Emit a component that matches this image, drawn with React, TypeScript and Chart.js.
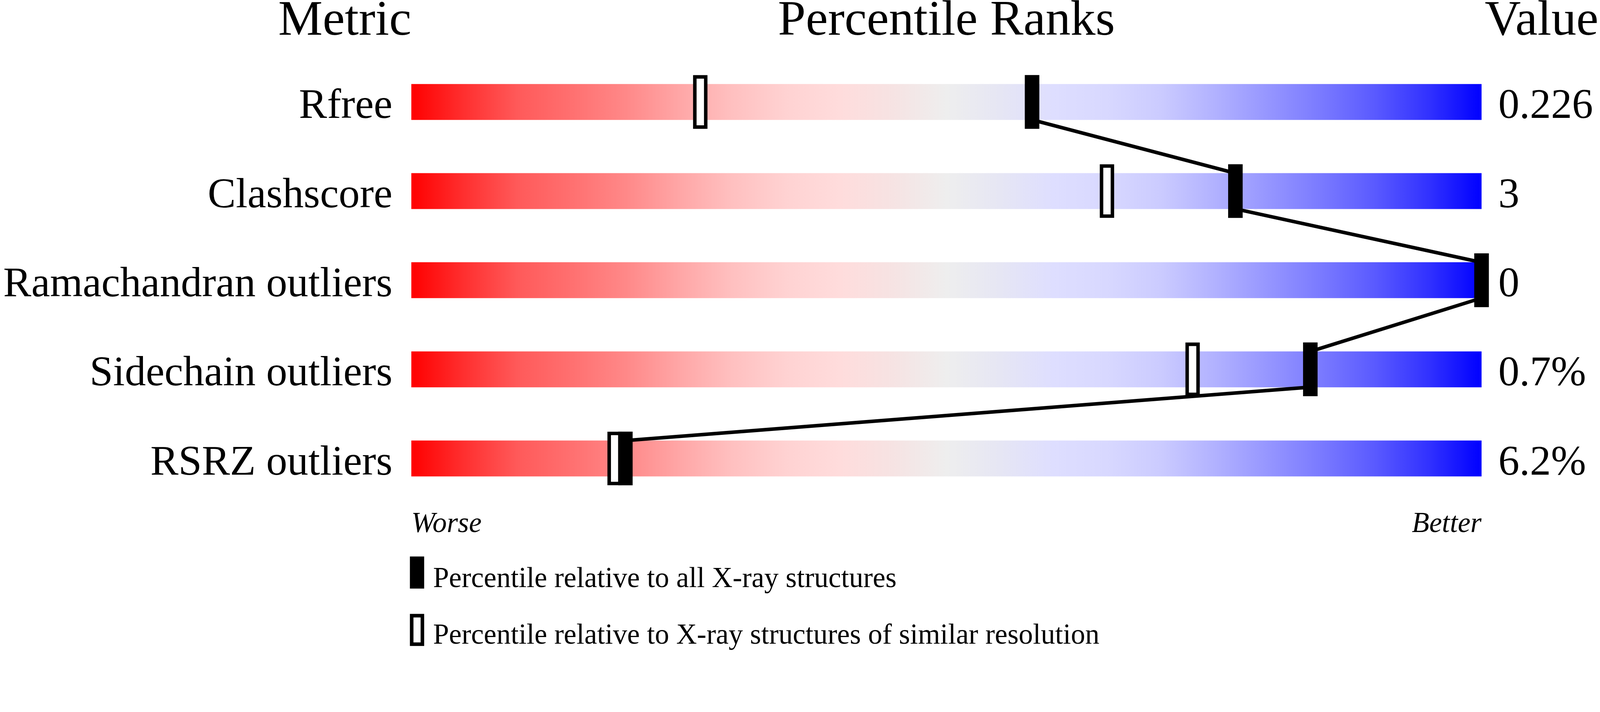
import { useEffect, useRef } from "react";
import { Chart, registerables } from "chart.js";

Chart.register(...registerables);

const metrics = ["Rfree", "Clashscore", "Ramachandran outliers", "Sidechain outliers", "RSRZ outliers"];
const metricValues = ["0.226", "3", "0", "0.7%", "6.2%"];
// percentile relative to all X-ray structures (filled marker)
const percentileAll = [58, 77, 100, 84, 20];
// percentile relative to structures of similar resolution (open marker)
const percentileSimilar = [27, 65, 100, 73, 19];
const scaleEnds = ["Worse", "Better"];
const headers = ["Metric", "Percentile Ranks", "Value"];
const legendLabels = [
  "Percentile relative to all X-ray structures",
  "Percentile relative to X-ray structures of similar resolution",
];

const SERIF = "'Liberation Serif', 'Times New Roman', serif";

// red -> grey -> blue slider colours
const gradientStops: [number, string][] = [
  [0, "#ff0000"],
  [0.05, "#ff3030"],
  [0.1, "#ff5a5a"],
  [0.15, "#ff7070"],
  [0.2, "#ff8888"],
  [0.25, "#ffa6a6"],
  [0.3, "#ffc0c0"],
  [0.35, "#ffd2d2"],
  [0.4, "#ffdcdc"],
  [0.45, "#f6e3e3"],
  [0.5, "#eeeeee"],
  [0.55, "#e6e6f4"],
  [0.6, "#dedeff"],
  [0.65, "#d8d8ff"],
  [0.7, "#cbcbff"],
  [0.75, "#b2b2ff"],
  [0.8, "#9696ff"],
  [0.85, "#7a7aff"],
  [0.9, "#5a5aff"],
  [0.95, "#3232ff"],
  [1, "#0000ff"],
];

const MARK = 0.667; // half marker width in percentile units (~20px)
const EDGE = 0.2; // half bar height in row units (~50px)

export default function App() {
  const canvasRef = useRef<HTMLCanvasElement>(null);

  useEffect(() => {
    document.body.style.margin = "0";
    document.body.style.overflow = "hidden";
    if (!canvasRef.current) return;

    // everything below was measured on a 4485px wide picture
    const W = window.innerWidth;
    const H = window.innerHeight;
    const k = W / 4485;
    const canvas = canvasRef.current;
    canvas.width = W;
    canvas.height = H;
    canvas.style.width = W + "px";
    canvas.style.height = H + "px";

    const headerPlugin = {
      id: "headersAndKey",
      afterDraw(chart: any) {
        const { ctx, chartArea } = chart;
        ctx.save();
        ctx.fillStyle = "#000";
        ctx.textBaseline = "alphabetic";
        ctx.font = `${140 * k}px ${SERIF}`;
        const hy = chartArea.top - 64 * k;
        ctx.textAlign = "right";
        ctx.fillText(headers[0], chartArea.left, hy);
        ctx.textAlign = "center";
        ctx.fillText(headers[1], (chartArea.left + chartArea.right) / 2, hy);
        ctx.textAlign = "left";
        ctx.fillText(headers[2], chartArea.right + 9 * k, hy);

        // key
        const sx = chartArea.left - 4 * k;
        const rows = [chartArea.bottom + 150 * k, chartArea.bottom + 311 * k];
        ctx.fillRect(sx, rows[0], 40 * k, 90 * k);
        ctx.fillRect(sx, rows[1], 40 * k, 90 * k);
        ctx.fillStyle = "#fff";
        ctx.fillRect(sx + 10 * k, rows[1] + 10 * k, 20 * k, 70 * k);
        ctx.fillStyle = "#000";
        ctx.font = `${80 * k}px ${SERIF}`;
        ctx.textAlign = "left";
        ctx.fillText(legendLabels[0], chartArea.left + 61 * k, rows[0] + 86 * k);
        ctx.fillText(legendLabels[1], chartArea.left + 61 * k, rows[1] + 84 * k);
        ctx.restore();
      },
    };

    let gradient: CanvasGradient | null = null;
    const barFill = (c: any) => {
      const chart = c.chart;
      if (!chart.chartArea) return "#eeeeee";
      if (!gradient) {
        const xs = chart.scales.x;
        gradient = chart.ctx.createLinearGradient(xs.getPixelForValue(0), 0, xs.getPixelForValue(100), 0);
        gradientStops.forEach(([o, col]) => gradient!.addColorStop(o, col));
      }
      return gradient;
    };

    const rowTicks = (s: any) => {
      s.ticks = metrics.map((_, i) => ({ value: i }));
    };

    const chart = new Chart(canvas, {
      type: "bar",
      data: {
        datasets: [
          {
            type: "bar",
            label: "range",
            data: metrics.map((_, i) => ({ y: i, x: [0, 100] })) as any,
            backgroundColor: barFill,
            borderWidth: 0,
            barThickness: 100 * k,
            grouped: false,
            order: 4,
          },
          {
            type: "bar",
            label: legendLabels[1],
            data: percentileSimilar.map((p, i) => ({ y: i, x: [p - MARK, p + MARK] })) as any,
            backgroundColor: "#ffffff",
            borderColor: "#000000",
            borderWidth: 10 * k,
            borderSkipped: false,
            barThickness: 150 * k,
            grouped: false,
            clip: false as any,
            order: 3,
          },
          {
            type: "line",
            label: "link",
            data: percentileAll.flatMap((p, i) => [
              { x: p, y: i - EDGE },
              { x: p, y: i + EDGE },
            ]) as any,
            borderColor: "#000000",
            borderWidth: 10 * k,
            pointRadius: 0,
            fill: false,
            clip: false as any,
            order: 2,
          },
          {
            type: "bar",
            label: legendLabels[0],
            data: percentileAll.map((p, i) => ({ y: i, x: [p - MARK, p + MARK] })) as any,
            backgroundColor: "#000000",
            borderWidth: 0,
            barThickness: 150 * k,
            grouped: false,
            clip: false as any,
            order: 1,
          },
        ],
      },
      options: {
        indexAxis: "y",
        responsive: false,
        maintainAspectRatio: false,
        animation: false,
        events: [],
        layout: { padding: { top: 161 * k, left: 0, right: 0, bottom: 0 } },
        plugins: {
          legend: { display: false },
          tooltip: { enabled: false },
          title: { display: false },
        },
        scales: {
          x: {
            type: "linear",
            min: 0,
            max: 100,
            grid: { display: false },
            border: { display: false },
            afterBuildTicks: (s: any) => {
              s.ticks = [{ value: 0 }, { value: 100 }];
            },
            afterFit: (s: any) => {
              s.height = H - 1411 * k;
            },
            ticks: {
              callback: (_v: any, i: number) => scaleEnds[i],
              align: "inner",
              padding: 4 * k,
              maxRotation: 0,
              autoSkip: false,
              color: "#000",
              font: { family: SERIF, size: 80 * k, style: "italic" },
            },
          },
          y: {
            type: "linear",
            axis: "y",
            position: "left",
            min: -0.5,
            max: 4.5,
            reverse: true,
            offset: false,
            grid: { display: false, drawTicks: false },
            border: { display: false },
            afterBuildTicks: rowTicks,
            afterFit: (s: any) => {
              s.width = 1153 * k;
            },
            ticks: {
              callback: (v: any) => metrics[v],
              padding: 53 * k,
              labelOffset: 14 * k,
              autoSkip: false,
              color: "#000",
              font: { family: SERIF, size: 118 * k },
            },
          },
          y2: {
            type: "linear",
            axis: "y",
            position: "right",
            min: -0.5,
            max: 4.5,
            reverse: true,
            offset: false,
            grid: { display: false, drawTicks: false },
            border: { display: false },
            afterBuildTicks: rowTicks,
            afterFit: (s: any) => {
              s.width = W - 4153 * k;
            },
            ticks: {
              callback: (v: any) => metricValues[v],
              padding: 47 * k,
              labelOffset: 14 * k,
              autoSkip: false,
              color: "#000",
              font: { family: SERIF, size: 118 * k },
            },
          },
        } as any,
      },
      plugins: [headerPlugin],
    });

    return () => chart.destroy();
  }, []);

  return <canvas ref={canvasRef} style={{ display: "block" }} />;
}
